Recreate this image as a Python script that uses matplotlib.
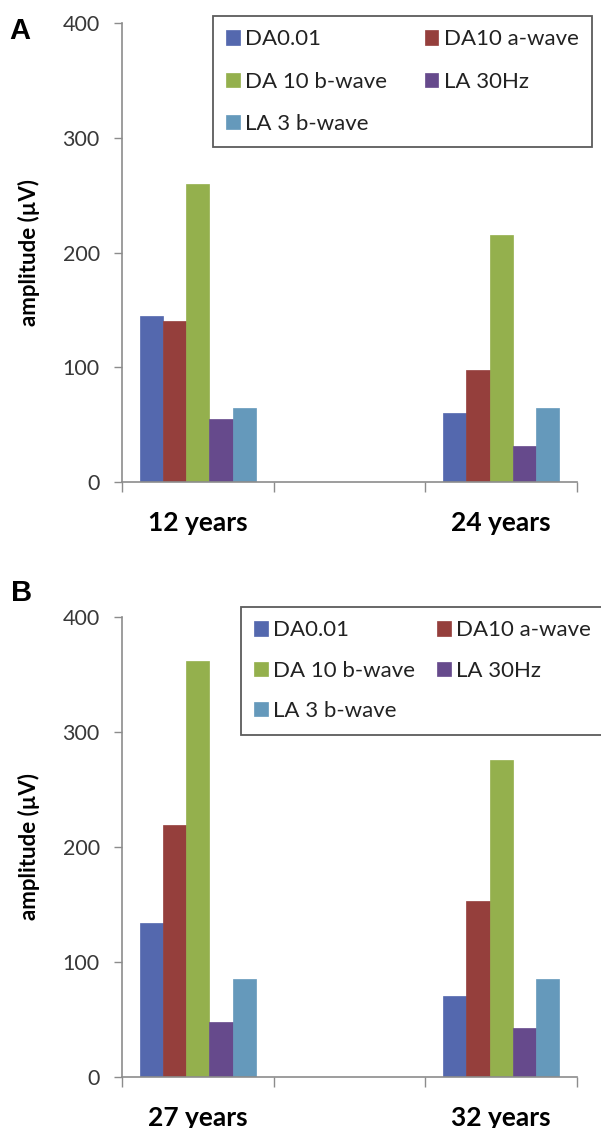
import numpy as np
import matplotlib
matplotlib.use("Agg")
import matplotlib.pyplot as plt

# ERG amplitudes (uV)
series = ["DA0.01", "DA10 a-wave", "DA 10 b-wave", "LA 30Hz", "LA 3 b-wave"]
colors = ["#5468ae", "#953f3c", "#94b04d", "#664a8c", "#6599bb"]

ages_a = ["12 years", "", "24 years"]
vals_a = [[145, 60], [140, 98], [260, 215], [55, 32], [65, 65]]

ages_b = ["27 years", "", "32 years"]
vals_b = [[134, 70], [219, 153], [362, 276], [48, 42], [85, 85]]

plt.rcParams['font.family'] = ['Lato', 'DejaVu Sans']

fig = plt.figure(figsize=(6.01, 11.28), dpi=100)

bw = 0.153
spine_col = "#8c8c8c"


def panel(rect, ages, vals, letter, leg_xy, colsp, lsp):
    ax = fig.add_axes(rect)
    cats = [0, 2]  # middle slot is empty
    handles = []
    for i, (name, c) in enumerate(zip(series, colors)):
        xs = np.array(cats) + (i - 2) * bw
        h = ax.bar(xs, vals[i], width=bw, color=c, edgecolor=c, linewidth=0.5, label=name)
        handles.append(h)
    ax.set_xlim(-0.5, 2.5)
    ax.set_ylim(0, 400)
    ax.set_yticks([0, 100, 200, 300, 400])
    ax.tick_params(axis='y', direction='out', length=6, width=1, color=spine_col,
                   labelsize=15.5, labelcolor="#383838", pad=10)
    ax.set_xticks([-0.5, 0.5, 1.5, 2.5])
    ax.set_xticklabels([])
    ax.tick_params(axis='x', which='major', direction='out', length=7, width=1, color=spine_col)
    ax.set_xticks(cats, minor=True)
    ax.set_xticklabels([ages[0], ages[2]], minor=True, fontsize=19, fontweight='bold')
    ax.tick_params(axis='x', which='minor', length=0, pad=21)
    for s in ['top', 'right']:
        ax.spines[s].set_visible(False)
    for s in ['left', 'bottom']:
        ax.spines[s].set_color(spine_col)
        ax.spines[s].set_linewidth(1.2)
    ax.set_ylabel("amplitude (\u00b5V)", fontsize=16, fontweight='bold')
    ax.yaxis.set_label_coords(-0.18, 0.5)

    # legend fills by column, so reorder to read row-wise like the original
    order = [0, 2, 4, 1, 3]
    leg = fig.legend([handles[k] for k in order], [series[k] for k in order],
                     loc='upper left', bbox_to_anchor=leg_xy, ncol=2,
                     fontsize=16, frameon=True, fancybox=False,
                     handlelength=0.6, handleheight=0.6, handletextpad=0.25,
                     columnspacing=colsp, labelspacing=lsp, borderpad=0.6,
                     borderaxespad=0)
    leg.get_frame().set_edgecolor("#333333")
    leg.get_frame().set_linewidth(1.3)
    for t in leg.get_texts():
        t.set_color("#222222")
    fig.text(letter[1], letter[2], letter[0], fontsize=21, fontweight='bold',
             family='Liberation Sans', va='top', ha='left')
    return ax


panel([0.203, 0.5724, 0.757, 0.4074], ages_a, vals_a, ("A", 0.015, 0.985),
      (213 / 601, 1 - 16 / 1128), 1.7, 1.0)
panel([0.203, 0.0455, 0.757, 0.4073], ages_b, vals_b, ("B", 0.019, 0.487),
      (241 / 601, 1 - 607 / 1128), 1.0, 0.92)

fig.savefig("out.png", dpi=100)
